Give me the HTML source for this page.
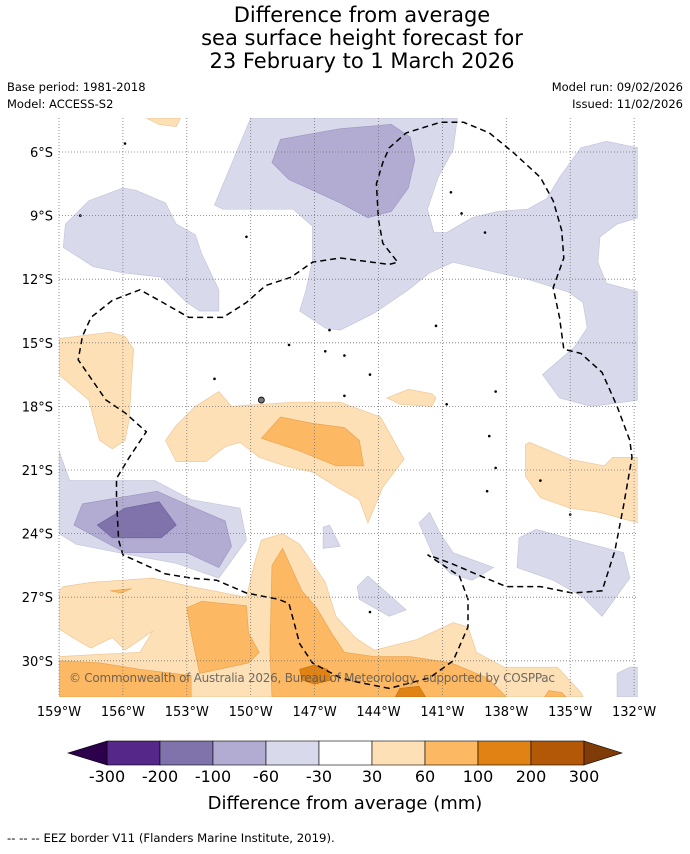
<!DOCTYPE html>
<html><head><meta charset="utf-8"><style>
html,body{margin:0;padding:0;background:#fff;}
body{width:690px;height:850px;overflow:hidden;font-family:"DejaVu Sans","Liberation Sans",sans-serif;}
</style></head><body>
<svg id="chart" width="690" height="850" viewBox="0 0 690 850" xmlns="http://www.w3.org/2000/svg">
<g font-family="DejaVu Sans, Liberation Sans, sans-serif" font-size="21" fill="#000" text-anchor="middle">
<text x="362" y="22">Difference from average</text>
<text x="362" y="45">sea surface height forecast for</text>
<text x="362" y="68">23 February to 1 March 2026</text>
</g>
<g font-family="DejaVu Sans, Liberation Sans, sans-serif" font-size="11.5" fill="#000">
<text x="7" y="91">Base period: 1981-2018</text>
<text x="7" y="108">Model: ACCESS-S2</text>
<text x="683" y="91" text-anchor="end">Model run: 09/02/2026</text>
<text x="683" y="108" text-anchor="end">Issued: 11/02/2026</text>
</g>
<defs><clipPath id="mapclip"><rect x="59" y="118" width="579" height="579"/></clipPath></defs>
<g id="map" clip-path="url(#mapclip)"></g>
<g id="grid"></g>
<g id="ticks" font-family="DejaVu Sans, Liberation Sans, sans-serif" font-size="13" fill="#000"></g>
<text x="69" y="682" font-family="DejaVu Sans, Liberation Sans, sans-serif" font-size="12" fill="#555" fill-opacity="0.85" textLength="486">© Commonwealth of Australia 2026, Bureau of Meteorology, supported by COSPPac</text>
<g id="cbar"></g>
<text x="345" y="809" text-anchor="middle" font-family="DejaVu Sans, Liberation Sans, sans-serif" font-size="18">Difference from average (mm)</text>
<text x="7" y="842" font-family="DejaVu Sans, Liberation Sans, sans-serif" font-size="11.7">--  --  -- EEZ border V11 (Flanders Marine Institute, 2019).</text>
</svg>
<script>
// Colorbar data
const cbarBounds = [-300,-200,-100,-60,-30,30,60,100,200,300];
const cbarColors = ["#542788","#8073ac","#b2abd2","#d8daeb","#ffffff","#fee0b6","#fdb863","#e08214","#b35806"];
const cbarUnder = "#2d004b";
const cbarOver = "#7f3b08";
// Axis ticks (degrees W / degrees S)
const lonTicks = [159,156,153,150,147,144,141,138,135,132];
const latTicks = [6,9,12,15,18,21,24,27,30];
// Contour regions [lonW, latS]
const lavenderNorth = [[150.0,4.4],[140.3,4.4],[140.5,5.9],[141.2,7.2],[141.7,8.7],[141.4,9.8],[140.8,9.8],[139.6,9.1],[138.4,8.8],[137.0,8.7],[136.1,8.2],[135.5,7.2],[134.5,5.8],[133.3,5.5],[131.8,5.8],[131.8,9.1],[132.8,9.4],[133.6,10.0],[133.7,11.2],[133.3,12.2],[131.8,12.6],[131.8,17.7],[132.5,17.8],[134.0,18.0],[135.5,17.6],[136.3,16.5],[134.8,15.2],[134.2,14.3],[134.4,13.1],[135.1,12.6],[137.0,12.0],[138.4,11.7],[140.5,11.2],[141.6,11.7],[142.6,12.5],[144.2,13.6],[145.8,14.4],[146.5,14.3],[147.7,13.5],[147.4,12.5],[147.1,11.1],[147.1,9.5],[148.0,8.7],[151.3,8.7],[151.7,8.5]];
const purpleNorth = [[149.0,6.5],[148.6,5.4],[145.8,4.9],[143.4,4.7],[142.5,5.3],[142.3,6.4],[142.6,7.7],[143.4,8.8],[144.5,9.1],[145.8,8.4],[147.1,7.8],[148.2,7.3]];
const lavenderWest = [[158.8,10.5],[158.7,9.4],[157.6,8.3],[156.0,7.7],[155.4,7.8],[154.0,8.4],[153.5,9.4],[152.6,9.9],[152.3,10.8],[151.5,12.5],[151.5,13.5],[152.4,13.5],[153.0,13.1],[154.2,11.9],[156.0,11.7],[157.4,11.4]];
const orangeTopLeft = [[154.9,4.4],[153.3,4.4],[153.5,4.8],[154.3,4.7]];
const orangeWest = [[159.0,14.8],[156.6,14.5],[155.9,14.7],[155.5,15.3],[155.6,16.8],[155.7,18.6],[155.9,19.6],[156.5,20.0],[157.1,19.6],[157.6,17.7],[159.0,16.5]];
const orangeCentral = [[154.0,19.6],[153.5,18.9],[152.6,18.0],[151.5,17.3],[150.9,18.0],[149.5,17.9],[148.0,17.8],[145.8,17.8],[143.9,18.5],[142.8,20.5],[143.8,21.8],[144.5,23.5],[144.9,22.4],[145.8,21.9],[147.1,21.1],[148.4,20.8],[149.6,20.4],[150.5,19.7],[151.2,19.9],[152.1,20.6],[153.5,20.6]];
const orangeSmall = [[143.6,17.6],[142.6,17.2],[141.5,17.4],[141.3,17.6],[141.5,18.0],[143.0,17.9]];
const orangeEast = [[137.1,19.8],[136.9,19.7],[135.0,20.5],[133.4,20.8],[133.0,20.4],[131.8,20.4],[131.8,23.5],[133.6,23.0],[135.0,22.8],[136.4,22.3],[137.1,21.3]];
const orangeSouth = [[159.0,26.7],[158.8,26.5],[157.5,26.3],[154.6,26.1],[152.8,26.5],[150.2,27.0],[149.8,25.3],[149.5,24.3],[148.5,24.0],[147.7,24.5],[146.5,26.3],[146.0,27.9],[145.1,28.9],[144.2,29.5],[142.2,29.0],[140.5,28.2],[139.8,28.4],[139.4,29.6],[138.1,30.3],[135.6,30.3],[134.5,31.5],[134.4,31.7],[159.0,31.7]];
const neutralHole = [[159.0,28.5],[158.2,29.0],[157.5,29.4],[156.5,28.9],[155.9,29.5],[154.6,28.6],[155.2,29.6],[157.1,29.7],[159.0,29.8]];
const midOrangeCentral = [[149.5,19.5],[148.6,18.5],[147.1,18.8],[145.6,19.0],[144.9,19.6],[144.7,20.8],[146.0,20.8],[147.7,20.1]];
const midOrangeTiny = [[156.6,26.7],[155.6,26.6],[156.1,26.8]];
const midOrangeBlock = [[153.0,27.5],[152.3,27.2],[150.2,27.4],[150.1,28.7],[149.6,29.6],[150.1,30.1],[152.4,30.6],[152.8,28.7]];
const midOrangeTongue = [[149.0,25.5],[148.5,24.7],[147.6,26.7],[146.9,27.5],[146.2,28.7],[145.6,29.6],[144.2,29.8],[142.5,29.8],[140.6,30.1],[138.9,30.8],[138.0,31.7],[149.0,31.7],[149.1,29.5]];
const midOrangeSW = [[159.0,30.0],[157.1,30.1],[155.2,30.4],[152.8,30.7],[152.8,31.7],[159.0,31.7]];
const midOrangeSE = [[136.2,31.7],[136.0,31.4],[135.4,31.5],[135.2,31.7]];
const darkOrangeA = [[147.7,30.4],[147.0,30.2],[146.4,30.4],[146.2,30.9],[147.0,31.1],[147.6,30.9]];
const darkOrangeB = [[143.2,31.7],[143.0,31.3],[142.1,31.2],[141.8,31.7]];
const lavenderSW = [[159.0,20.1],[158.5,21.5],[154.5,21.5],[152.8,22.4],[150.5,22.8],[150.2,24.3],[151.5,26.1],[153.5,25.4],[156.2,24.9],[158.2,24.5],[159.0,24.0]];
const purpleSW = [[157.9,22.6],[154.4,22.0],[152.6,22.8],[151.2,23.4],[150.9,24.6],[151.5,25.6],[153.0,24.9],[155.9,24.9],[158.3,23.6]];
const darkPurpleSW = [[157.2,23.6],[155.9,22.8],[154.3,22.5],[153.5,23.6],[154.2,24.2],[156.5,24.2]];
const lavenderS1 = [[146.6,23.7],[146.3,23.6],[145.8,24.6],[146.6,24.7]];
const lavenderS2 = [[142.1,23.5],[141.6,23.0],[141.1,24.0],[140.5,24.9],[138.6,25.6],[139.6,26.2],[140.6,25.9],[141.4,25.1]];
const lavenderS3 = [[137.4,24.2],[136.6,23.8],[134.8,24.3],[132.5,24.9],[132.2,26.1],[133.5,27.9],[134.4,27.0],[135.8,26.2],[137.5,25.6]];
const lavenderS4 = [[145.0,26.5],[144.5,26.0],[142.7,27.6],[143.5,27.9],[144.9,27.1]];
const lavenderS5 = [[132.8,30.6],[132.2,30.3],[131.8,30.3],[131.8,31.7],[132.8,31.7]];
const eezBorder = [[145.8,11.0],[144.3,11.2],[143.5,11.3],[143.1,11.2],[143.8,10.3],[144.0,9.2],[144.1,7.5],[143.8,6.5],[143.5,5.8],[142.7,5.1],[141.1,4.6],[140.0,4.6],[138.8,5.1],[137.7,6.0],[136.4,7.2],[135.8,8.3],[135.4,9.7],[135.3,11.0],[135.8,12.4],[135.5,13.8],[135.3,15.3],[134.5,15.5],[133.5,16.4],[132.8,18.0],[132.2,19.6],[132.1,20.4],[132.5,22.7],[132.9,24.8],[133.5,26.7],[134.9,26.8],[136.4,26.5],[138.0,26.5],[139.2,26.0],[140.6,25.4],[141.7,25.0],[140.2,26.0],[139.8,27.1],[139.8,28.4],[140.5,30.0],[141.6,30.8],[143.5,31.3],[145.0,31.0],[145.8,30.8],[147.1,30.1],[147.7,29.2],[148.2,27.3],[148.7,27.1],[150.2,26.8],[151.6,26.2],[152.8,26.1],[154.0,25.9],[154.9,25.5],[156.0,25.0],[156.2,24.3],[156.3,22.4],[156.3,21.4],[155.7,20.4],[154.9,19.2],[155.9,18.3],[156.8,17.7],[158.1,15.8],[157.9,14.7],[157.5,13.8],[156.5,13.0],[155.2,12.5],[154.3,13.0],[152.9,13.8],[151.3,13.8],[150.2,13.1],[149.3,12.3],[148.1,11.9],[147.1,11.2],[145.8,11.0]];
const islands = [[155.9,5.6],[158.0,9.0],[150.2,10.0],[146.3,14.4],[148.2,15.1],[146.5,15.4],[145.6,15.6],[144.4,16.5],[151.7,16.7],[145.6,17.5],[140.8,17.9],[140.1,8.9],[139.0,9.8],[140.6,7.9],[141.3,14.2],[138.5,17.3],[138.8,19.4],[138.5,20.9],[138.9,22.0],[136.4,21.5],[135.0,23.1],[144.4,27.7]];
const bigIsland = [[149.5,17.7]];

const NS = "http://www.w3.org/2000/svg";
const X = lon => 59 + (159 - lon) * 21.3;
const Y = lat => 152 + (lat - 6) * 21.2;
const map = document.getElementById('map');
const C = {lav:"#d8daeb", pur:"#b2abd2", dpur:"#8073ac", lor:"#fee0b6", mor:"#fdb863", dor:"#e08214", wht:"#ffffff"};
const E = {lav:"#c4c6dc", pur:"#9f98c2", dpur:"#6e629c", lor:"#ecc898", mor:"#e9a550", dor:"#c8720f", wht:"#ecc898"};
function pts(arr){return arr.map(p=>X(p[0]).toFixed(1)+","+Y(p[1]).toFixed(1)).join(" ");}
function poly(arr, cls, name){
  const p = document.createElementNS(NS,'polygon');
  p.setAttribute('points', pts(arr));
  p.setAttribute('fill', C[cls]);
  p.setAttribute('stroke', E[cls]);
  p.setAttribute('stroke-width','0.7');
  
  
  map.appendChild(p);
}
const bg = document.createElementNS(NS,'rect');
bg.setAttribute('x',59);bg.setAttribute('y',118);bg.setAttribute('width',579);bg.setAttribute('height',579);bg.setAttribute('fill','#fff');


map.appendChild(bg);
poly(lavenderNorth,'lav','contour-lavender-north');
poly(lavenderWest,'lav','contour-lavender-west');
poly(purpleNorth,'pur','contour-purple-north');
poly(orangeTopLeft,'lor','contour-orange-top-left');
poly(orangeWest,'lor','contour-orange-west');
poly(orangeCentral,'lor','contour-orange-central');
poly(orangeSmall,'lor','contour-orange-small');
poly(orangeEast,'lor','contour-orange-east');
poly(orangeSouth,'lor','contour-orange-south');
poly(neutralHole,'wht','contour-neutral-hole');
poly(midOrangeCentral,'mor','contour-mid-orange-central');
poly(midOrangeTiny,'mor','contour-mid-orange-tiny');
poly(midOrangeBlock,'mor','contour-mid-orange-block');
poly(midOrangeTongue,'mor','contour-mid-orange-tongue');
poly(midOrangeSW,'mor','contour-mid-orange-southwest');
poly(midOrangeSE,'mor','contour-mid-orange-southeast');
poly(darkOrangeA,'dor','contour-dark-orange-a');
poly(darkOrangeB,'dor','contour-dark-orange-b');
poly(lavenderSW,'lav','contour-lavender-southwest');
poly(purpleSW,'pur','contour-purple-southwest');
poly(darkPurpleSW,'dpur','contour-dark-purple-southwest');
poly(lavenderS1,'lav','contour-lavender-s1');
poly(lavenderS2,'lav','contour-lavender-s2');
poly(lavenderS3,'lav','contour-lavender-s3');
poly(lavenderS4,'lav','contour-lavender-s4');
poly(lavenderS5,'lav','contour-lavender-s5');
islands.forEach(p=>{
  const c = document.createElementNS(NS,'circle');
  c.setAttribute('cx',X(p[0]));c.setAttribute('cy',Y(p[1]));c.setAttribute('r','1.3');c.setAttribute('fill','#000');
  
  
  map.appendChild(c);
});
bigIsland.forEach(p=>{
  const c = document.createElementNS(NS,'circle');
  c.setAttribute('cx',X(p[0]));c.setAttribute('cy',Y(p[1]));c.setAttribute('r','3');c.setAttribute('fill','#777');c.setAttribute('stroke','#000');c.setAttribute('stroke-width','0.8');
  
  
  map.appendChild(c);
});
const eez = document.createElementNS(NS,'polyline');
eez.setAttribute('points', pts(eezBorder));
eez.setAttribute('fill','none');eez.setAttribute('stroke','#000');eez.setAttribute('stroke-width','1.5');eez.setAttribute('stroke-dasharray','6,4');


map.appendChild(eez);

const grid = document.getElementById('grid');
const ticks = document.getElementById('ticks');
lonTicks.forEach(l=>{
  const ln = document.createElementNS(NS,'line');
  ln.setAttribute('x1',X(l));ln.setAttribute('x2',X(l));ln.setAttribute('y1',118);ln.setAttribute('y2',697);
  ln.setAttribute('stroke','#777');ln.setAttribute('stroke-width','0.8');ln.setAttribute('stroke-dasharray','1,2');
  
  
  grid.appendChild(ln);
  const t = document.createElementNS(NS,'text');
  t.setAttribute('x',X(l));t.setAttribute('y',716);t.setAttribute('text-anchor','middle');
  t.textContent = l+"°W";
  
  
  ticks.appendChild(t);
});
latTicks.forEach(l=>{
  const ln = document.createElementNS(NS,'line');
  ln.setAttribute('y1',Y(l));ln.setAttribute('y2',Y(l));ln.setAttribute('x1',59);ln.setAttribute('x2',638);
  ln.setAttribute('stroke','#777');ln.setAttribute('stroke-width','0.8');ln.setAttribute('stroke-dasharray','1,2');
  
  
  grid.appendChild(ln);
  const t = document.createElementNS(NS,'text');
  t.setAttribute('x',53);t.setAttribute('y',Y(l)+5);t.setAttribute('text-anchor','end');
  t.textContent = l+"°S";
  
  
  ticks.appendChild(t);
});

const cb = document.getElementById('cbar');
const cbX0 = 107, cbW = 53, cbY = 741, cbH = 24;
cbarColors.forEach((col,i)=>{
  const r = document.createElementNS(NS,'rect');
  r.setAttribute('x',cbX0+i*cbW);r.setAttribute('y',cbY);r.setAttribute('width',cbW);r.setAttribute('height',cbH);
  r.setAttribute('fill',col);r.setAttribute('stroke','#000');r.setAttribute('stroke-width','0.6');
  
  
  cb.appendChild(r);
});
const cbEnd = cbX0 + cbarColors.length*cbW;
const tl = document.createElementNS(NS,'polygon');
tl.setAttribute('points', `${cbX0},${cbY} ${cbX0-39},${cbY+cbH/2} ${cbX0},${cbY+cbH}`);
tl.setAttribute('fill',cbarUnder);tl.setAttribute('stroke','#000');tl.setAttribute('stroke-width','0.6');


cb.appendChild(tl);
const tr = document.createElementNS(NS,'polygon');
tr.setAttribute('points', `${cbEnd},${cbY} ${cbEnd+38},${cbY+cbH/2} ${cbEnd},${cbY+cbH}`);
tr.setAttribute('fill',cbarOver);tr.setAttribute('stroke','#000');tr.setAttribute('stroke-width','0.6');


cb.appendChild(tr);
cbarBounds.forEach((v,i)=>{
  const t = document.createElementNS(NS,'text');
  t.setAttribute('x',cbX0+i*cbW);t.setAttribute('y',782);t.setAttribute('text-anchor','middle');
  t.setAttribute('font-family','DejaVu Sans, Liberation Sans, sans-serif');t.setAttribute('font-size','16');
  t.textContent = v;
  
  
  cb.appendChild(t);
});
</script>
</body></html>
